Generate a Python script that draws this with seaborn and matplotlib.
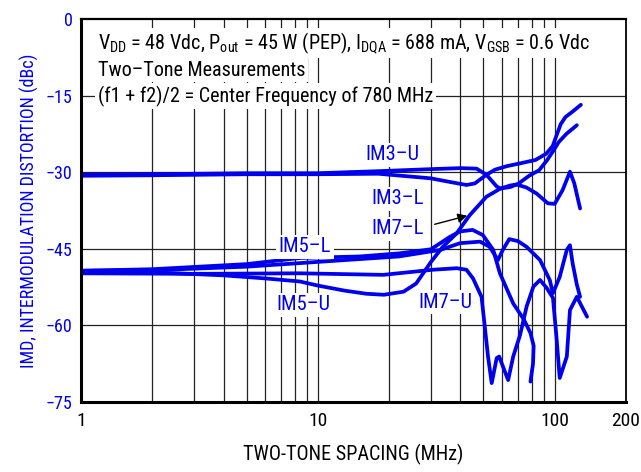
import numpy as np
import pandas as pd
import matplotlib
matplotlib.use("Agg")
import matplotlib.pyplot as plt
import seaborn as sns
from matplotlib import font_manager as fm

# ---------------- data ----------------
im3u_x = [1, 2, 5, 10, 18, 30, 40, 46.8, 51.5, 56.9, 59, 65, 70, 78, 86, 93, 99, 104, 112, 124]
im3u_y = [-30.5, -30.4, -30.2, -30.2, -29.8, -29.4, -29.2, -29.3, -30.5, -32.8, -33.2, -32.9,
          -32.3, -30.7, -29.6, -27.6, -25.7, -24.1, -22.5, -20.8]

im3l_x = [1, 2, 5, 10, 18, 30, 36, 42.4, 46, 51.5, 56, 63, 71, 83, 92, 98, 102, 106, 111, 120,
          129]
im3l_y = [-30.7, -30.6, -30.4, -30.4, -30.3, -31.2, -31.9, -32.5, -32.2, -30.5, -29.5, -28.8,
          -28.3, -27.6, -26.4, -24.9, -22.7, -20.6, -19.2, -18.0, -16.8]

im7l_x = [1, 2, 4, 6, 8.4, 10, 13, 16, 19, 23, 26, 30, 33.7, 38.5, 43.8, 51.5, 59, 65, 69,
          76, 84, 93.6, 100, 108, 116, 121, 128]
im7l_y = [-49.6, -49.6, -50.2, -50.8, -51.4, -52.2, -53.2, -53.8, -54.0, -53.4, -51.8, -47.6,
          -44.6, -42.0, -38.4, -34.8, -33.2, -32.6, -32.4, -33.0, -34.2, -36.1, -36.2, -33.5,
          -29.9, -32.2, -37.1]

im5l_x = [1, 2, 5, 8.4, 15, 22, 30, 36, 39.8, 45, 49.7, 55, 58.7, 66.8, 74, 79, 81.5, 81, 79]
im5l_y = [-49.3, -49.0, -48.0, -46.8, -46.5, -45.9, -45.1, -42.7, -41.6, -41.3, -42.3, -45.2,
          -49.8, -55.7, -58.8, -61.5, -64.0, -67.5, -71.0]

im5u_x = [1, 2, 5, 8.4, 22, 33, 39.8, 48.4, 53.1, 57.6, 60.4, 64.3, 70, 76, 86.7, 95.3, 98.3,
          105, 112.5, 116, 119, 124, 128]
im5u_y = [-49.3, -49.2, -48.5, -47.8, -46.5, -45.2, -43.9, -43.6, -44.6, -47.2, -45.2, -43.1,
          -43.5, -44.6, -47.2, -51.1, -53.7, -50.5, -45.2, -44.3, -47.8, -52.0, -54.4]

im7u_x = [1, 3, 8.4, 18.9, 30.6, 38.6, 42.4, 45.2, 49.1, 50.5, 52.3, 54.2, 56.9, 58.3, 60.5,
          63.6, 66.8, 71.4, 76.1, 81.3, 86.7, 92.6, 98.3, 101.7, 105, 112.5, 116, 124, 137]
im7u_y = [-49.8, -49.9, -49.8, -50.1, -49.1, -48.8, -49.1, -50.8, -54.4, -59.6, -66.1, -71.3,
          -66.4, -66.1, -68.1, -70.7, -66.1, -61.9, -56.3, -52.4, -51.1, -52.7, -54.6, -62.2,
          -70.3, -66.1, -57.0, -54.4, -58.3]

series_names = ["IM3-U", "IM3-L", "IM7-L", "IM5-L", "IM5-U", "IM7-U"]
xs = [im3u_x, im3l_x, im7l_x, im5l_x, im5u_x, im7u_x]
ys = [im3u_y, im3l_y, im7l_y, im5l_y, im5u_y, im7u_y]

x_ticks = [1, 10, 100, 200]
x_ticklabels = ["1", "10", "100", "200"]
y_ticks = [0, -15, -30, -45, -60, -75]
y_ticklabels = ["0", "\u221215", "\u221230", "\u221245", "\u221260", "\u221275"]

# ---------------- style ----------------
sns.set_theme(style="white")
avail = {f.name for f in fm.fontManager.ttflist}
fam = "DejaVu Sans"
for cand in ["Roboto Condensed", "Archivo Narrow", "PT Sans Narrow", "Liberation Sans Narrow",
             "Fira Sans Condensed", "Barlow Semi Condensed", "Asap Condensed"]:
    if cand in avail:
        fam = cand
        break
plt.rcParams["font.family"] = [fam, "DejaVu Sans"]
plt.rcParams["mathtext.fontset"] = "custom"
plt.rcParams["mathtext.rm"] = fam
plt.rcParams["mathtext.it"] = fam
plt.rcParams["mathtext.default"] = "regular"

BLUE = "#0000EE"

frames = []
for name, x, y in zip(series_names, xs, ys):
    frames.append(pd.DataFrame({"x": x, "y": y, "series": name, "order": range(len(x))}))
df = pd.concat(frames, ignore_index=True)

fig = plt.figure(figsize=(6.41, 4.72), dpi=100)
ax = fig.add_axes([81 / 641, 1 - 402 / 472, 545 / 641, 383 / 472])

ax.set_xscale("log")
ax.set_xlim(1, 200)
ax.set_ylim(-75, 0)

minor = [2, 3, 4, 5, 6, 7, 8, 9, 10, 20, 30, 40, 50, 60, 70, 80, 90, 100]
for v in minor:
    ax.axvline(v, color="#222222", lw=0.9, zorder=1)
for v in [-15, -30, -45, -60]:
    ax.axhline(v, color="#222222", lw=0.9, zorder=1)

sns.lineplot(data=df, x="x", y="y", units="series", estimator=None, sort=False,
             color=BLUE, lw=2.7, ax=ax, legend=False, zorder=3)
for ln in ax.lines:
    ln.set_solid_joinstyle("round")
    ln.set_solid_capstyle("round")

ax.set_xticks(x_ticks)
ax.set_xticklabels(x_ticklabels)
ax.xaxis.set_minor_locator(matplotlib.ticker.NullLocator())
ax.set_yticks(y_ticks)
ax.set_yticklabels(y_ticklabels)
ax.tick_params(axis="both", length=0)
ax.tick_params(axis="x", labelsize=14, pad=7, colors="black")
ax.tick_params(axis="y", labelsize=13, pad=6, labelcolor=BLUE)

ax.set_xlabel("TWO-TONE SPACING (MHz)", fontsize=14.5, color="black", labelpad=10)
ax.set_ylabel("IMD, INTERMODULATION DISTORTION (dBc)", fontsize=13, color=BLUE, labelpad=5)

for side, lw in [("left", 2.2), ("bottom", 2.2), ("top", 1.6), ("right", 1.3)]:
    ax.spines[side].set_visible(True)
    ax.spines[side].set_color("black")
    ax.spines[side].set_linewidth(lw)
    ax.spines[side].set_zorder(5)

def px2ax(px, py):
    return ((px - 81) / 545, 1 - (py - 19) / 383)

wb = dict(facecolor="white", edgecolor="none", pad=2)
tk = dict(transform=ax.transAxes, color="black", va="center", ha="left", bbox=wb, zorder=4)
t1 = ax.text(*px2ax(98, 43),
             r"V$_{DD}$ = 48 Vdc, P$_{out}$ = 45 W (PEP), I$_{DQA}$ = 688 mA, V$_{GSB}$ = 0.6 Vdc",
             fontsize=15, **tk)
t2 = ax.text(*px2ax(98, 70), "Two\u2013Tone Measurements", fontsize=15, **tk)
t3 = ax.text(*px2ax(98, 96), "(f1 + f2)/2 = Center Frequency of 780 MHz", fontsize=15, **tk)

fig.canvas.draw()
r = fig.canvas.get_renderer()
w = t1.get_window_extent(r).width
fs = 15 * 494 / w
for t in (t1, t2, t3):
    t.set_fontsize(fs)

lk = dict(transform=ax.transAxes, fontsize=fs * 1.02, color=BLUE, va="center", ha="center",
          bbox=dict(facecolor="white", edgecolor="none", pad=2), zorder=4)
ax.text(*px2ax(392, 155), "IM3\u2013U", **lk)
ax.text(*px2ax(398, 199), "IM3\u2013L", **lk)
ax.text(*px2ax(398, 229), "IM7\u2013L", **lk)
ax.text(*px2ax(305, 247), "IM5\u2013L", **lk)
ax.text(*px2ax(303, 305), "IM5\u2013U", **lk)
ax.text(*px2ax(445, 302), "IM7\u2013U", **lk)

ax.annotate("", xy=px2ax(470, 215), xytext=px2ax(432, 225), xycoords="axes fraction",
            textcoords="axes fraction",
            arrowprops=dict(arrowstyle="-|>", color="black", lw=1.0, mutation_scale=14),
            zorder=4)

fig.savefig("out.png", dpi=100)
